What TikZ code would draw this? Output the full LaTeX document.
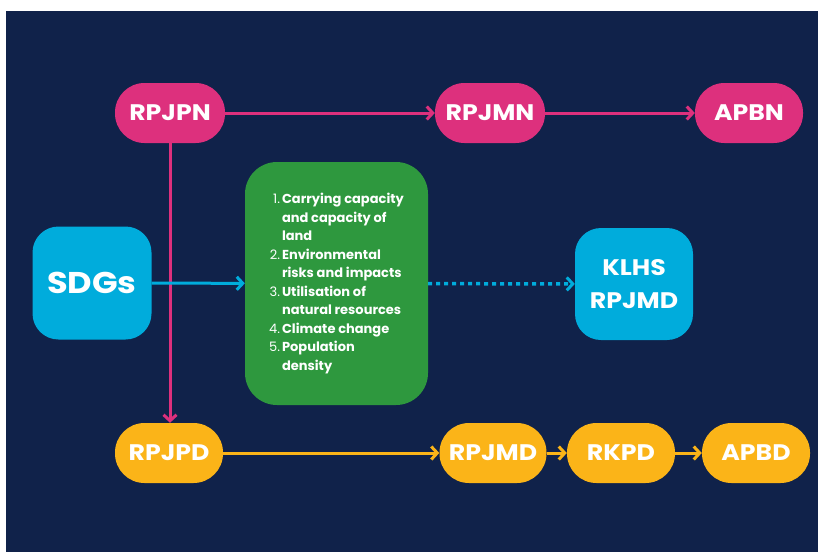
\documentclass[tikz,border=0pt]{standalone}
\usepackage{fontspec}
\setmainfont{Poppins}
\newfontfamily\pillfont{Poppins}[FakeStretch=1.12]
\usetikzlibrary{positioning, arrows.meta}
\definecolor{bgnavy}{RGB}{16,34,74}
\definecolor{natpink}{RGB}{221,48,125}
\definecolor{sdgblue}{RGB}{0,172,220}
\definecolor{envgreen}{RGB}{46,152,62}
\definecolor{regyellow}{RGB}{251,180,24}
\tikzset{
  pill/.style={fill=#1, text=white, minimum width=108pt, minimum height=60pt,
    rounded corners=29.5pt, inner sep=0pt, font=\pillfont\fontsize{22.5}{26}\selectfont\bfseries},
  blob/.style={fill=sdgblue, text=white, rounded corners=26pt, inner sep=0pt, align=center},
  flow/.style={draw=#1, line width=3pt, -{Straight Barb[length=6pt, width=13pt, line width=3pt]}},
}

\begin{document}
\begin{tikzpicture}[x=1pt, y=-1pt]

% ============================================================ canvas
\useasboundingbox (0, 0) rectangle (818, 552);
\fill[bgnavy] (6, 11) rectangle (818, 552);

% ============================================================ national row
\node[pill=natpink, minimum width=110pt] (rpjpn) at (170, 113) {RPJPN};
\node[pill=natpink, minimum width=110pt] (rpjmn) at (490, 113) {RPJMN};
\node[pill=natpink] (apbn) at (749, 113) {APBN};

% ============================================================ regional row
\node[pill=regyellow] (rpjpd) at (169, 453) {RPJPD};
\node[pill=regyellow, minimum width=107pt] (rpjmd) at (493, 453) {RPJMD};
\node[pill=regyellow] (rkpd) at (621, 453) {RKPD};
\node[pill=regyellow] (apbd) at (756, 453) {APBD};

% ============================================================ middle
\node[blob, minimum width=119pt, minimum height=113pt, font=\pillfont\fontsize{30}{34}\selectfont\bfseries]
  (sdgs) at (92, 283) {SDGs};
\node[blob, minimum width=118pt, minimum height=112pt, font=\pillfont\fontsize{22.5}{33}\selectfont\bfseries]
  (klhs) at (634, 284) {KLHS\\RPJMD};
\node[fill=envgreen, text=white, rounded corners=32pt, minimum width=183pt, minimum height=243pt,
  inner sep=0pt] (issues) at (336.5, 283.5) {%
  \fontsize{13}{18.5}\selectfont
  \begin{tabular}{@{}r@{\hspace{2pt}}l@{}}
    1. & \textbf{Carrying capacity}\\
       & \textbf{and capacity of}\\
       & \textbf{land}\\
    2. & \textbf{Environmental}\\
       & \textbf{risks and impacts}\\
    3. & \textbf{Utilisation of}\\
       & \textbf{natural resources}\\
    4. & \textbf{Climate change}\\
    5. & \textbf{Population}\\
       & \textbf{density}
  \end{tabular}};

% ============================================================ connectors
\draw[flow=natpink] (rpjpn) -- (rpjmn);
\draw[flow=natpink] (rpjmn) -- (apbn);
\draw[flow=natpink] (rpjpn.south) -- (rpjpn.south |- rpjpd.north);

\draw[flow=regyellow] (rpjpd) -- (rpjmd);
\draw[flow=regyellow] (rpjmd) -- (rkpd);
\draw[flow=regyellow] (rkpd) -- (apbd);

\draw[flow=sdgblue] (sdgs) -- (issues);
\draw[flow=sdgblue, dash pattern=on 4pt off 4pt, line width=3.5pt] (issues) -- (klhs);

\end{tikzpicture}
\end{document}
